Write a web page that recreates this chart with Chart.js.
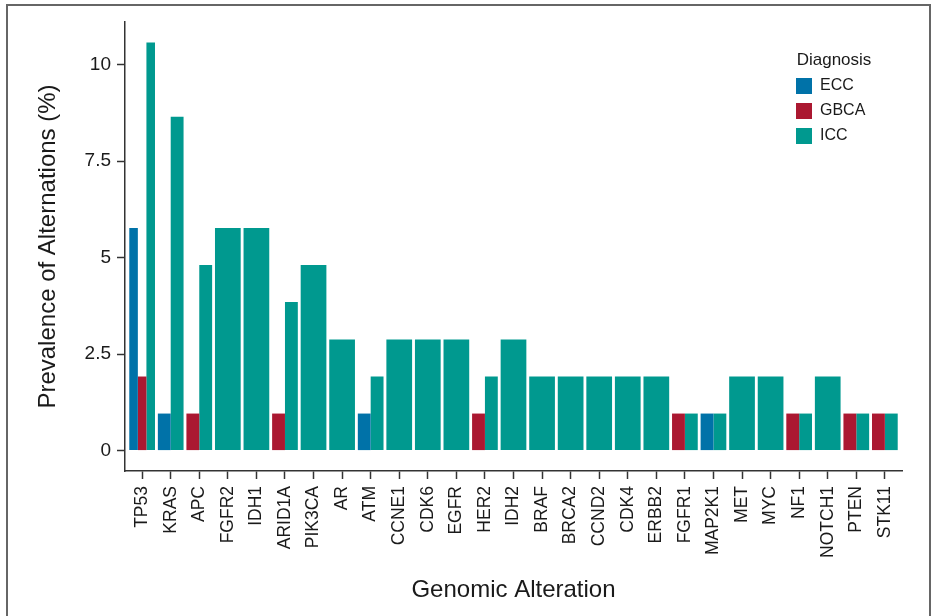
<!DOCTYPE html>
<html>
<head>
<meta charset="utf-8">
<script src="https://cdn.jsdelivr.net/npm/chart.js@4.4.0/dist/chart.umd.min.js"></script>
<style>
  html, body { margin: 0; padding: 0; background: #fff; }
  #wrap { position: relative; width: 935px; height: 616px; overflow: hidden; }
  #frame { position: absolute; left: 6px; top: 4px; width: 921px; height: 700px; border: 2px solid #666; pointer-events: none; }
</style>
</head>
<body>
<div id="wrap">
  <canvas id="chart" width="935" height="616"></canvas>
  <div id="frame"></div>
</div>
<script>
// genes in the order of the figure
const genes = ['TP53', 'KRAS', 'APC', 'FGFR2', 'IDH1', 'ARID1A', 'PIK3CA', 'AR', 'ATM', 'CCNE1',
  'CDK6', 'EGFR', 'HER2', 'IDH2', 'BRAF', 'BRCA2', 'CCND2', 'CDK4', 'ERBB2', 'FGFR1',
  'MAP2K1', 'MET', 'MYC', 'NF1', 'NOTCH1', 'PTEN', 'STK11'];

// prevalence (%) per diagnosis, null = no bar
const eccValues = [5.77, 0.96, null, null, null, null, null, null, 0.96, null,
  null, null, null, null, null, null, null, null, null, null,
  0.96, null, null, null, null, null, null];
const gbcaValues = [1.92, null, 0.96, null, null, 0.96, null, null, null, null,
  null, null, 0.96, null, null, null, null, null, null, 0.96,
  null, null, null, 0.96, null, 0.96, 0.96];
const iccValues = [10.58, 8.65, 4.81, 5.77, 5.77, 3.85, 4.81, 2.88, 1.92, 2.88,
  2.88, 2.88, 1.92, 2.88, 1.92, 1.92, 1.92, 1.92, 1.92, 0.96,
  0.96, 1.92, 1.92, 0.96, 1.92, 0.96, 0.96];

const yTicks = [0, 2.5, 5, 7.5, 10];

const font = 'Liberation Sans, Arial, sans-serif';
const ink = '#1a1a1a';
const axisColor = '#333';

const dataMax = Math.max(...eccValues.concat(gbcaValues, iccValues).filter(v => v != null));

function barSet(label, data, color) {
  return {
    label,
    data,
    backgroundColor: color,
    borderColor: color,
    borderWidth: 0,
    categoryPercentage: 0.9,
    barPercentage: 1,
    skipNull: true
  };
}

// legend inside the panel (top right) + ggplot style 0.6 category padding
const panelTweaks = {
  id: 'panelTweaks',
  afterLayout(chart) {
    const area = chart.chartArea;
    const lg = chart.legend;
    lg.left = area.right - 115;
    lg.width = 94; // title is centred in this width, lines up with the boxes
    lg.right = lg.left + lg.width;
    lg.top = area.top + 30;
    lg.bottom = area.bottom;

    const x = chart.scales.x;
    x._startValue -= 0.1;
    x._valueRange += 0.2;
  }
};

new Chart(document.getElementById('chart'), {
  type: 'bar',
  data: {
    labels: genes,
    datasets: [
      barSet('ECC', eccValues, '#0072A8'),
      barSet('GBCA', gbcaValues, '#AB1831'),
      barSet('ICC', iccValues, '#00998F')
    ]
  },
  options: {
    responsive: false,
    animation: false,
    layout: { padding: { top: 22, right: 33, left: 0, bottom: 0 } },
    scales: {
      x: {
        type: 'category',
        offset: true,
        grid: { display: true, drawOnChartArea: false, offset: false, tickLength: 8, tickWidth: 1.5, tickColor: axisColor },
        border: { display: true, color: axisColor, width: 1.5 },
        ticks: { autoSkip: false, minRotation: 90, maxRotation: 90, padding: 7, color: ink, font: { family: font, size: 17.5 } },
        title: { display: true, text: 'Genomic Alteration', color: ink, font: { family: font, size: 24 }, padding: { top: 0, bottom: 11 } },
        afterFit: s => { s.height = 145; }
      },
      y: {
        min: -dataMax * 0.05,
        max: dataMax * 1.05,
        afterBuildTicks: s => { s.ticks = yTicks.map(v => ({ value: v })); },
        grid: { display: true, drawOnChartArea: false, tickLength: 8, tickWidth: 1.5, tickColor: axisColor },
        border: { display: true, color: axisColor, width: 1.5 },
        ticks: { padding: 6, color: ink, font: { family: font, size: 19 }, callback: v => String(v) },
        title: { display: true, text: 'Prevalence of Alternations (%)', color: ink, font: { family: font, size: 24 }, padding: { top: 34, bottom: 0 } },
        afterFit: s => { s.width = 125; }
      }
    },
    plugins: {
      tooltip: { enabled: false },
      legend: {
        position: 'chartArea',
        align: 'start',
        title: { display: true, text: 'Diagnosis', color: ink, position: 'center', font: { family: font, size: 17, lineHeight: 1 }, padding: { top: 0, bottom: 0 } },
        labels: { boxWidth: 16, boxHeight: 16, padding: 9, color: ink, font: { family: font, size: 16 } }
      }
    }
  },
  plugins: [panelTweaks]
});
</script>
</body>
</html>
